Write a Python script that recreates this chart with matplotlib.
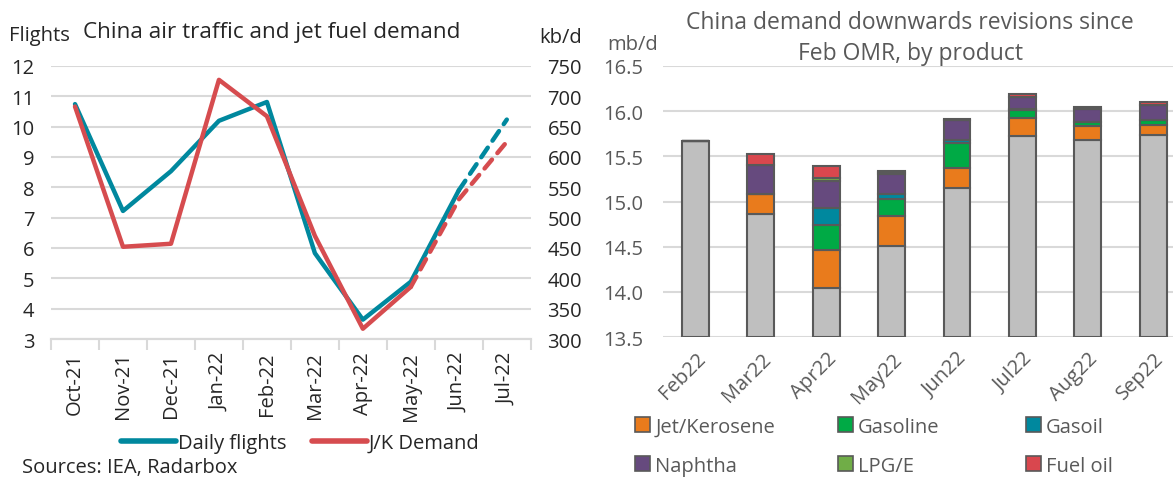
import numpy as np
import matplotlib
matplotlib.use('Agg')
import matplotlib.pyplot as plt
from matplotlib.patches import Patch
from matplotlib.lines import Line2D

plt.rcParams['font.family'] = ['Open Sans', 'DejaVu Sans']

# left chart data
months = ['Oct-21', 'Nov-21', 'Dec-21', 'Jan-22', 'Feb-22', 'Mar-22',
          'Apr-22', 'May-22', 'Jun-22', 'Jul-22']
daily_flights = [10.74, 7.22, 8.53, 10.19, 10.81, 5.83, 3.64, 4.89, 7.9, 10.23]
jk_demand = [683, 452, 457, 727, 667, 470, 317, 386, 530, 625]

# right chart data
omr_months = ['Feb22', 'Mar22', 'Apr22', 'May22', 'Jun22', 'Jul22', 'Aug22', 'Sep22']
base = [15.665, 14.86, 14.04, 14.507, 15.152, 15.72, 15.683, 15.738]
jet = [0, 0.22, 0.42, 0.33, 0.22, 0.20, 0.147, 0.11]
gasoline = [0, 0, 0.28, 0.195, 0.275, 0.093, 0.044, 0.048]
gasoil = [0, 0, 0.185, 0.05, 0.036, 0.01, 0.0, 0.0]
naphtha = [0, 0.32, 0.30, 0.224, 0.213, 0.13, 0.15, 0.172]
lpg = [0, 0, 0.035, 0.015, 0.0, 0.0, 0.0, 0.0]
fuel_oil = [0, 0.12, 0.13, 0.012, 0.018, 0.033, 0.026, 0.036]

TEAL = '#00889E'
RED = '#D64C4F'
GRID = '#D9D9D9'
TXT = '#262626'
GREY = '#595959'
FS = 14.5

fig = plt.figure(figsize=(11.73, 4.81), dpi=100)

# ---- left: flights vs jet demand
ax = fig.add_axes([0.0435, 0.293, 0.409, 0.568])
ax2 = ax.twinx()
x = np.arange(len(months))
dash = (0, (2.6, 1.9))
ax.plot(x[:9], daily_flights[:9], color=TEAL, lw=3.2, solid_capstyle='round', zorder=3)
ax.plot(x[8:], daily_flights[8:], color=TEAL, lw=3.2, ls=dash, dash_capstyle='round', zorder=3)
ax2.plot(x[:8], jk_demand[:8], color=RED, lw=3.2, solid_capstyle='round', zorder=3)
ax2.plot(x[7:], jk_demand[7:], color=RED, lw=3.2, ls=dash, dash_capstyle='round', zorder=3)

ax.set_xlim(-0.5, len(months) - 0.5)
ax.set_ylim(3, 12)
ax2.set_ylim(300, 750)
ax.set_yticks(range(3, 13))
ax2.set_yticks(range(300, 751, 50))
ax.yaxis.grid(True, color=GRID, lw=1.5)
ax.set_axisbelow(True)
for a in (ax, ax2):
    for s in ['top', 'left', 'right']:
        a.spines[s].set_visible(False)
    a.spines['bottom'].set_color(GRID)
    a.spines['bottom'].set_linewidth(1.5)
ax.set_xticks(x)
ax.set_xticklabels(months, rotation=90, fontsize=FS, color=TXT)
ax.set_xticks(np.arange(-0.5, len(months)), minor=True)
ax.tick_params(axis='x', which='major', length=0, pad=9)
ax.tick_params(axis='x', which='minor', length=8, color=GRID, width=1.5)
ax.tick_params(axis='y', length=0, labelsize=FS, labelcolor=TXT, pad=12)
ax2.tick_params(axis='y', length=0, labelsize=FS, labelcolor=TXT, pad=12)

fig.text(0.008, 0.925, 'Flights', fontsize=FS, color=TXT, ha='left', va='center')
fig.text(0.478, 0.92, 'kb/d', fontsize=FS, color=TXT, ha='center', va='center')
fig.text(0.232, 0.933, 'China air traffic and jet fuel demand', fontsize=16.2,
         color=TXT, ha='center', va='center')

fig.legend(handles=[Line2D([], [], color=TEAL, lw=4, solid_capstyle='round'),
                    Line2D([], [], color=RED, lw=4, solid_capstyle='round')],
           labels=['Daily flights', 'J/K Demand'],
           loc='center', bbox_to_anchor=(0.256, 0.077), ncol=2, frameon=False,
           fontsize=FS, handlelength=2.7, handletextpad=0.1, columnspacing=1.3,
           labelcolor=TXT)
fig.text(0.019, 0.026, 'Sources: IEA, Radarbox', fontsize=FS, color=TXT, ha='left', va='center')

# ---- right: China demand revisions
bx = fig.add_axes([0.565, 0.297, 0.446, 0.564])
xb = np.arange(len(omr_months))
segs = [('Jet/Kerosene', jet, '#E97B1C'),
        ('Gasoline', gasoline, '#00AA45'),
        ('Gasoil', gasoil, '#00889E'),
        ('Naphtha', naphtha, '#664A7E'),
        ('LPG/E', lpg, '#70AD47'),
        ('Fuel oil', fuel_oil, '#D9474E')]
bottom = np.array(base, dtype=float)
bx.bar(xb, bottom - 13.5, bottom=13.5, width=0.41, color='#BFBFBF',
       edgecolor=GREY, linewidth=1.5, zorder=2)
for name, vals, col in segs:
    vals = np.array(vals)
    bx.bar(xb, vals, bottom=bottom, width=0.41, color=col,
           edgecolor=GREY, linewidth=1.5, zorder=2)
    bottom = bottom + vals

bx.set_xlim(-0.5, len(omr_months) - 0.5)
bx.set_ylim(13.5, 16.5)
bx.set_yticks(np.arange(13.5, 16.51, 0.5))
bx.set_yticklabels(['%.1f' % v for v in np.arange(13.5, 16.51, 0.5)])
bx.yaxis.grid(True, color=GRID, lw=1.5)
bx.set_axisbelow(True)
for s in bx.spines.values():
    s.set_visible(False)
bx.set_xticks(xb)
bx.set_xticklabels(omr_months, rotation=45, ha='right', rotation_mode='anchor',
                   fontsize=FS, color=GREY)
bx.tick_params(axis='x', length=0, pad=8)
bx.tick_params(axis='y', length=0, labelsize=FS, labelcolor=GREY, pad=14)

fig.text(0.518, 0.907, 'mb/d', fontsize=FS, color=GREY, ha='left', va='center')
fig.text(0.776, 0.92, 'China demand downwards revisions since\nFeb OMR, by product',
         fontsize=16.5, color=GREY, ha='center', va='center', linespacing=1.35)

# legend: three columns placed separately to match uneven spacing
for i, xpos in enumerate([0.526, 0.699, 0.859]):
    cols = [segs[i], segs[i + 3]]
    fig.legend(handles=[Patch(facecolor=c, edgecolor=GREY, linewidth=1.2) for _, _, c in cols],
               labels=[n for n, _, _ in cols],
               loc='center left', bbox_to_anchor=(xpos, 0.07), ncol=1, frameon=False,
               fontsize=FS, handlelength=0.75, handleheight=0.75, handletextpad=0.25,
               labelspacing=0.95, labelcolor=GREY)

fig.savefig('out.png', dpi=100)
